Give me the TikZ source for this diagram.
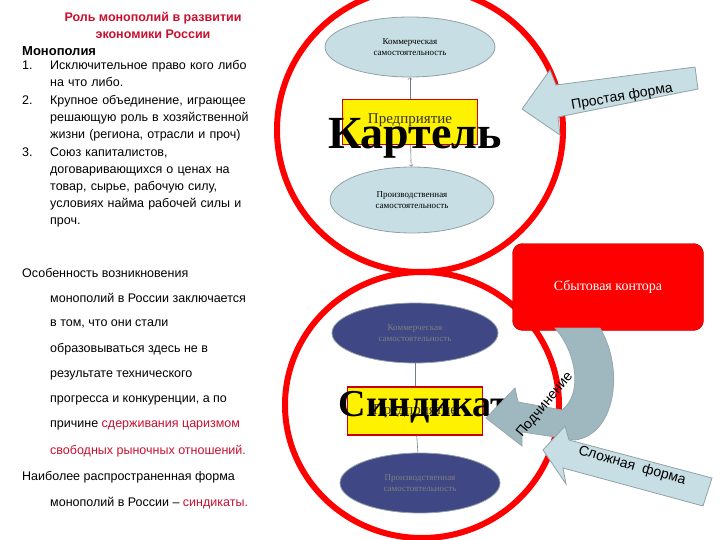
\documentclass[tikz,border=0pt]{standalone}
\usepackage{fontspec}
\setmainfont{Liberation Sans}
\newfontfamily\serif{Liberation Serif}
\usetikzlibrary{shapes.geometric}
\definecolor{lb}{HTML}{C7DEE4}
\definecolor{navy}{HTML}{3F4785}
\definecolor{tred}{HTML}{C8102E}
\definecolor{arr}{HTML}{9FB8C0}
\tikzset{
 ring/.style={draw=red,line width=6pt},
 ell/.style={ellipse,draw=arr!60!gray,line width=0.8pt,inner sep=0pt,align=center,font=\serif\fontsize{9}{11}\selectfont},
 ybox/.style={draw=red!80!black,fill=yellow,line width=1.2pt,minimum width=135pt,minimum height=45pt,inner sep=0pt,font=\serif\fontsize{15}{17}\selectfont,text=black!80},
 big/.style={font=\serif\bfseries\fontsize{46}{50}\selectfont},
 txt/.style={anchor=west,inner sep=0pt,font=\fontsize{12.5}{14}\selectfont},
 lnk/.style={draw=arr!70!black,line width=0.6pt}
}
\begin{document}
\begin{tikzpicture}[x=1pt,y=-1pt]
\useasboundingbox (0,0) rectangle (720,540);
% rings
\draw[ring] (420,130) ellipse [x radius=143, y radius=142];
\draw[ring] (422,405) ellipse [x radius=137, y radius=133];
% top group
\node[ell,fill=lb,minimum width=170pt,minimum height=60pt] (tc) at (410,47) {Коммерческая\\самостоятельность};
\node[ell,fill=lb,minimum width=164pt,minimum height=66pt] (tp) at (412,200) {Производственная\\самостоятельность};
\node[ybox] (te) at (410,122) {\raisebox{6pt}{Предприятие}};
\draw[lnk,->] (te) -- (tc);
\draw[lnk,->] (te) -- (tp);
\node[big] (kart) at (415,138) {Картель};
% simple form arrow
\path[fill=lb,draw=arr!60!gray,line width=0.8pt] (522,109) -- (550,70) -- (556,85) -- (695,67) -- (698,89) -- (558,117) -- (560,135) -- cycle;
\node[rotate=10,font=\fontsize{14}{16}\selectfont] (pf) at (622,97) {Простая форма};
% sales office
\node[draw=red!70!black,fill=red,rounded corners=10pt,minimum width=191pt,minimum height=87pt,text=white,font=\serif\fontsize{14}{16}\selectfont] (sk) at (608,287) {Сбытовая контора};
% bottom group
\node[ell,fill=navy,minimum width=166pt,minimum height=60pt,text=gray] (bc) at (415,333) {Коммерческая\\самостоятельность};
\node[ell,fill=navy,minimum width=160pt,minimum height=60pt,text=gray] (bp) at (420,483) {Производственная\\самостоятельность};
\node[ybox,minimum height=48pt] (be) at (415,411) {Предприятие};
\draw[lnk] (be) -- (bc);
\draw[lnk] (be) -- (bp);
\node[big,font=\serif\bfseries\fontsize{38}{42}\selectfont] (sind) at (424,407) {Синдикат};
% subordination curved arrow
\path[fill=arr,draw=arr!70!gray,line width=0.8pt] (600,328) .. controls (625,370) and (615,435) .. (575,440) -- (522,432) -- (522,446) -- (486,418) -- (515,388) -- (518,402) -- (562,410) .. controls (582,395) and (578,355) .. (555,328) -- cycle;
\node[rotate=50,font=\fontsize{14}{16}\selectfont] (pod) at (545,405) {Подчинение};
% complex form arrow
\path[fill=lb,draw=arr!60!gray,line width=0.8pt] (543,450) -- (565,426) -- (569,440) -- (712,478) -- (703,506) -- (563,468) -- (566,484) -- cycle;
\node[rotate=-16,font=\fontsize{14}{16}\selectfont] (slf) at (632,466) {Сложная\ \ форма};
% left texts
\node[align=center,text=tred,font=\bfseries\fontsize{12.5}{17}\selectfont] (ttl) at (153,25) {Роль монополий в развитии\\экономики России};
\node[txt,font=\bfseries\fontsize{13}{14}\selectfont] (mono) at (22,51) {Монополия};
\node[txt,anchor=north west,align=left,text width=260pt,font=\fontsize{12.5}{17}\selectfont] (lst) at (22,60) {%
\makebox[28pt][l]{1.}Исключительное право  кого либо\\\hspace*{28pt}на что либо.\\[1pt]
\makebox[28pt][l]{2.}Крупное объединение, играющее\\\hspace*{28pt}решающую роль в хозяйственной\\\hspace*{28pt}жизни (региона, отрасли и проч)\\[1pt]
\makebox[28pt][l]{3.}Союз капиталистов,\\\hspace*{28pt}договаривающихся о ценах на\\\hspace*{28pt}товар, сырье, рабочую силу,\\\hspace*{28pt}условиях найма рабочей силы и\\\hspace*{28pt}проч.};
\node[txt] (l1) at (22,273) {Особенность  возникновения};
\node[txt] (l2) at (50,298) {монополий в России заключается};
\node[txt] (l3) at (50,324) {в том, что они стали};
\node[txt] (l4) at (50,349) {образовываться здесь не в};
\node[txt] (l5) at (50,375) {результате технического};
\node[txt] (l6) at (50,400) {прогресса и конкуренции, а  по};
\node[txt] (l7) at (50,425) {причине \textcolor{tred}{сдерживания царизмом}};
\node[txt,text=tred] (l8) at (50,451) {свободных рыночных отношений.};
\node[txt] (l9) at (22,477) {Наиболее распространенная форма};
\node[txt] (l10) at (50,503) {монополий в России -- \textcolor{tred}{синдикаты.}};
\end{tikzpicture}
\end{document}
